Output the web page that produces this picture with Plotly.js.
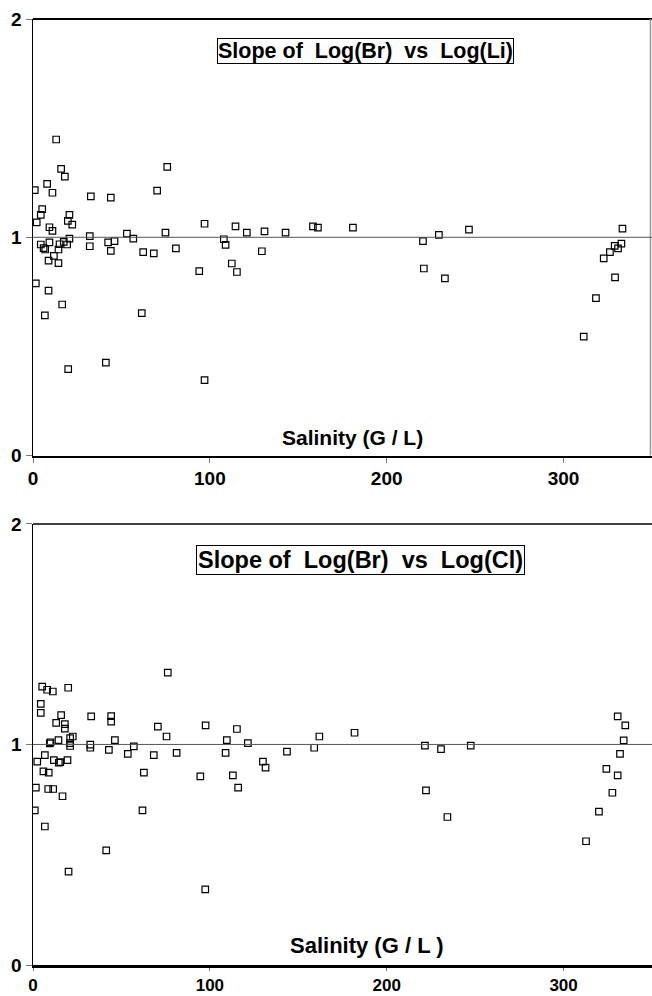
<!DOCTYPE html>
<html>
<head>
<meta charset="utf-8">
<script src="https://cdn.plot.ly/plotly-3.0.1.min.js"></script>
<style>html,body{margin:0;padding:0;background:#fff;}#chart{width:652px;height:996px;}</style>
</head>
<body>
<div id="chart"></div>
<script>
// Top panel: slope of Log(Br) vs Log(Li)
const liSalinity = [13.1,15.9,18.0,8.0,1.0,11.0,32.7,44.0,5.2,4.4,20.6,2.1,19.7,22.2,9.3,11.0,32.1,20.6,53.1,56.7,
  4.4,9.3,6.9,6.0,15.0,17.4,19.3,14.4,32.1,42.5,46.1,44.0,62.3,68.3,11.8,8.8,14.4,1.6,8.8,16.5,
  6.7,61.5,41.2,19.9,75.9,70.2,97.0,74.9,80.8,94.0,97.0,114.5,120.9,130.9,142.8,158.3,161.1,180.9,107.9,108.9,
  129.4,112.4,115.3,220.5,229.5,221.0,232.9,246.5,333.3,332.7,330.8,328.9,326.2,322.7,329.1,318.3,311.4];
const liSlope = [1.448,1.313,1.278,1.245,1.216,1.204,1.187,1.182,1.129,1.103,1.103,1.068,1.075,1.058,1.046,1.029,1.005,0.994,1.017,0.994,
  0.967,0.977,0.944,0.950,0.968,0.979,0.967,0.944,0.959,0.977,0.982,0.938,0.932,0.926,0.915,0.893,0.882,0.789,0.756,0.692,
  0.642,0.653,0.426,0.396,1.323,1.214,1.062,1.021,0.949,0.845,0.346,1.050,1.021,1.027,1.021,1.050,1.044,1.044,0.991,0.965,
  0.936,0.880,0.841,0.982,1.011,0.857,0.812,1.035,1.040,0.971,0.949,0.961,0.932,0.903,0.816,0.721,0.545];

// Bottom panel: slope of Log(Br) vs Log(Cl)
const clSalinity = [5.2,8.0,11.2,19.9,4.4,4.4,15.9,32.9,44.2,44.2,13.1,18.0,18.0,22.5,21.0,14.4,9.5,9.9,21.0,21.0,
  32.4,32.4,46.3,42.9,57.0,53.6,68.3,6.7,2.4,11.8,14.6,15.4,19.5,5.9,8.9,62.7,1.6,8.6,11.4,16.7,
  1.0,61.9,6.7,41.4,20.1,76.2,70.6,97.6,75.5,81.2,94.6,97.4,115.3,109.6,121.5,108.9,143.6,130.0,131.5,161.9,
  159.0,181.8,113.0,116.0,221.6,230.7,222.2,234.3,247.5,330.6,334.9,334.0,331.9,324.2,330.6,327.6,320.0,312.7];
const clSlope = [1.262,1.248,1.240,1.257,1.184,1.143,1.133,1.127,1.128,1.103,1.098,1.092,1.072,1.036,1.029,1.020,1.005,1.010,1.006,0.993,
  0.999,0.985,1.020,0.975,0.991,0.957,0.952,0.952,0.922,0.929,0.917,0.920,0.929,0.878,0.872,0.872,0.804,0.798,0.798,0.765,
  0.701,0.701,0.628,0.520,0.423,1.326,1.081,1.086,1.036,0.962,0.855,0.343,1.070,1.020,1.006,0.962,0.967,0.922,0.895,1.036,
  0.985,1.053,0.860,0.804,0.995,0.979,0.792,0.671,0.995,1.127,1.086,1.018,0.957,0.889,0.860,0.781,0.695,0.561];

const xTickVals = [0, 100, 200, 300];
const xTickText = ['0', '100', '200', '300'];
const yTickVals = [0, 1, 2];
const yTickText = ['0', '1', '2'];
const titleTop = 'Slope of\u00a0 Log(Br)\u00a0 vs\u00a0 Log(Li)';
const titleBottom = 'Slope of\u00a0 Log(Br)\u00a0 vs\u00a0 Log(Cl)';
const xLabelTop = 'Salinity (G / L)';
const xLabelBottom = 'Salinity (G / L )';

const FONT = 'Liberation Sans, Arial, Helvetica, sans-serif';
const bold = s => '<b>' + s + '</b>';
const marker = {symbol: 'square-open', size: 6.5, color: '#000', line: {color: '#000', width: 1.2}};

const traces = [
  {type: 'scatter', mode: 'markers', x: liSalinity, y: liSlope, xaxis: 'x', yaxis: 'y', marker: marker, hoverinfo: 'x+y'},
  {type: 'scatter', mode: 'markers', x: clSalinity, y: clSlope, xaxis: 'x2', yaxis: 'y2', marker: marker, hoverinfo: 'x+y'}
];

function xAxis(anchor, lw, tl, fs) {
  return {
    anchor: anchor, range: [0, 350], tickmode: 'array', tickvals: xTickVals, ticktext: xTickText.map(bold),
    ticks: 'outside', ticklen: tl, tickwidth: 1, tickcolor: '#777',
    showline: true, linecolor: '#000', linewidth: lw, showgrid: false, zeroline: false,
    tickfont: {family: FONT, size: fs, color: '#000'}, fixedrange: true
  };
}
function yAxis(anchor, domain) {
  return {
    anchor: anchor, domain: domain, range: [0, 2], tickmode: 'array', tickvals: yTickVals, ticktext: yTickText.map(bold),
    ticks: 'outside', ticklen: 6, tickwidth: 1, tickcolor: '#777',
    showline: true, linecolor: '#000', linewidth: 1.5, showgrid: false, zeroline: false,
    tickfont: {family: FONT, size: 19, color: '#000'}, fixedrange: true
  };
}

const layout = {
  width: 652, height: 996,
  margin: {l: 33, r: 0, t: 19, b: 31},
  paper_bgcolor: '#fff', plot_bgcolor: '#fff',
  showlegend: false,
  xaxis: xAxis('y', 2, 5, 19),
  yaxis: yAxis('x', [0.5385, 1]),
  xaxis2: xAxis('y2', 2.5, 3, 17),
  yaxis2: yAxis('x2', [0, 0.4663]),
  shapes: [
    {type: 'line', xref: 'x domain', yref: 'y domain', x0: 0, x1: 1, y0: 1, y1: 1, line: {color: '#000', width: 2}},
    {type: 'line', xref: 'x domain', yref: 'y domain', x0: 0.9975, x1: 0.9975, y0: 0, y1: 1, line: {color: '#999', width: 1.5}},
    {type: 'line', xref: 'x domain', yref: 'y', x0: 0, x1: 1, y0: 1, y1: 1, line: {color: '#555', width: 1}},
    {type: 'line', xref: 'x2 domain', yref: 'y2 domain', x0: 0, x1: 1, y0: 1, y1: 1, line: {color: '#000', width: 1.5}},
    {type: 'line', xref: 'x2 domain', yref: 'y2', x0: 0, x1: 1, y0: 1, y1: 1, line: {color: '#555', width: 1}}
  ],
  annotations: [
    {xref: 'x', yref: 'y', x: 188.2, y: 1.852, text: bold(titleTop), showarrow: false,
     font: {family: FONT, size: 21.5, color: '#000'}, bordercolor: '#000', borderwidth: 1, borderpad: 0, bgcolor: '#fff'},
    {xref: 'x2', yref: 'y2', x: 184.9, y: 1.836, text: bold(titleBottom), showarrow: false,
     font: {family: FONT, size: 23.5, color: '#000'}, bordercolor: '#000', borderwidth: 1, borderpad: 1, bgcolor: '#fff'},
    {xref: 'x', yref: 'y', x: 180.6, y: 0.083, text: bold(xLabelTop), showarrow: false,
     font: {family: FONT, size: 21, color: '#000'}},
    {xref: 'x2', yref: 'y2', x: 189.1, y: 0.089, text: bold(xLabelBottom), showarrow: false,
     font: {family: FONT, size: 22, color: '#000'}}
  ]
};

Plotly.newPlot('chart', traces, layout, {displayModeBar: false, staticPlot: true});
</script>
</body>
</html>
